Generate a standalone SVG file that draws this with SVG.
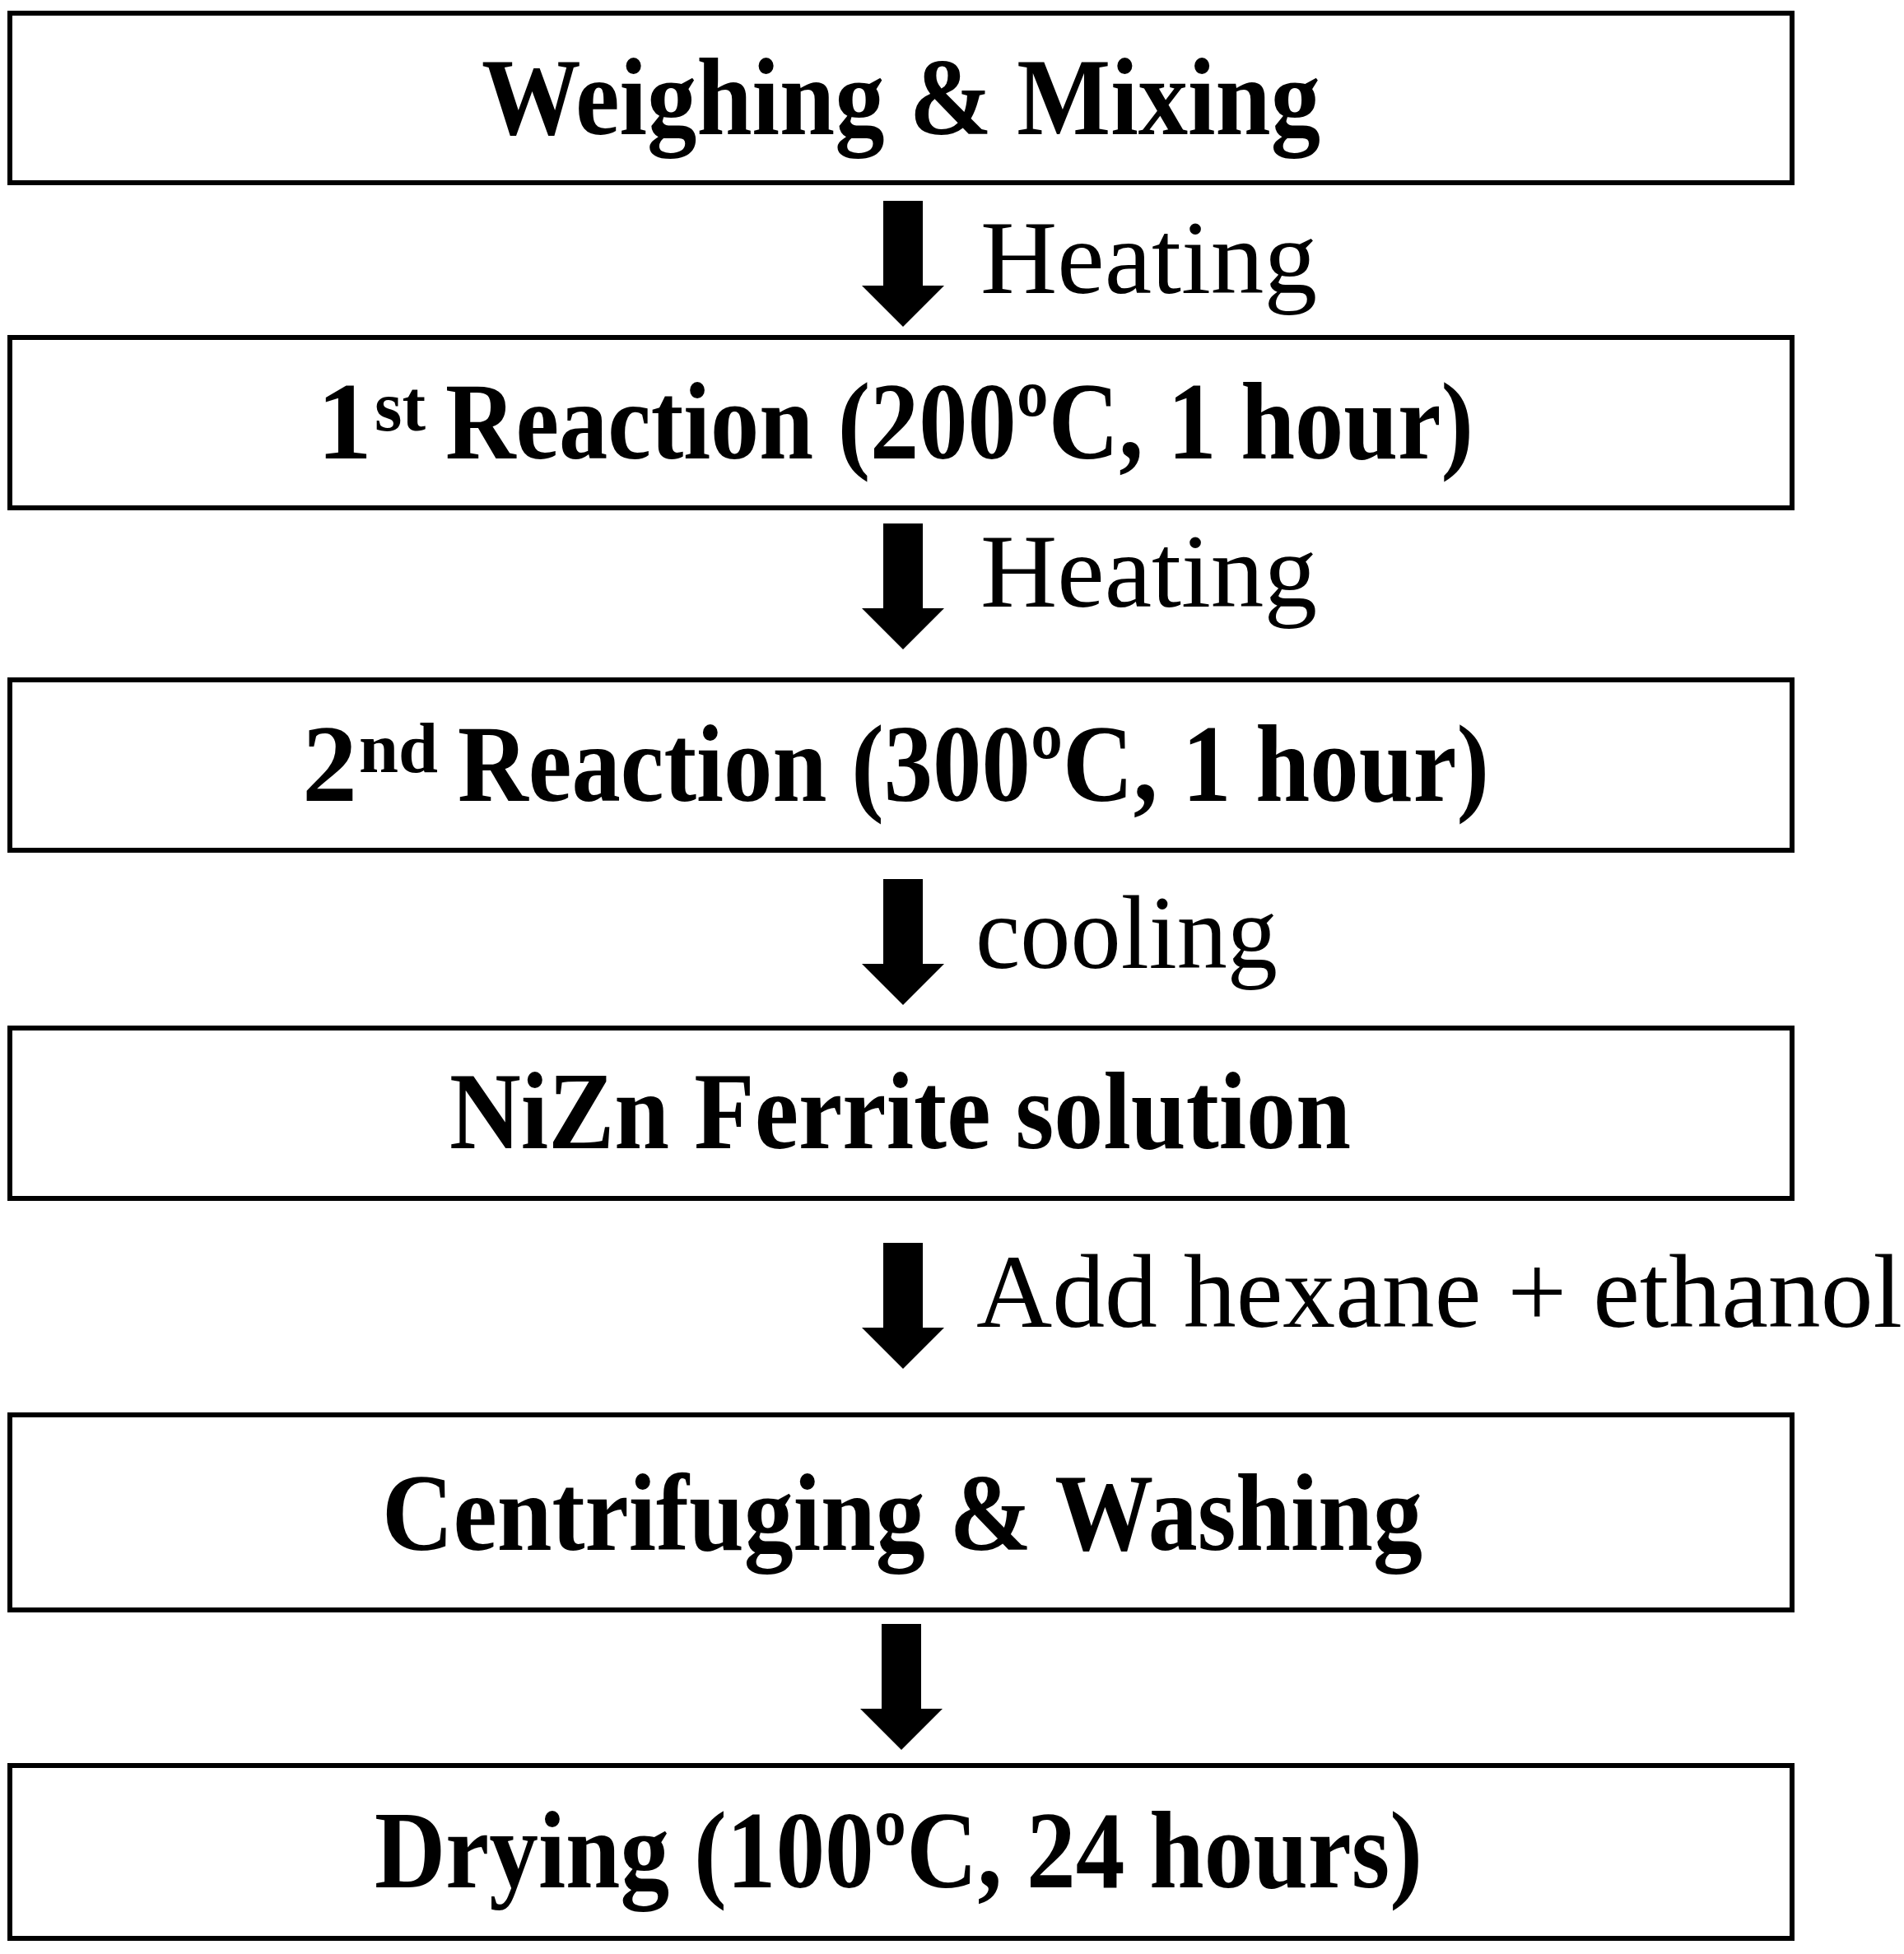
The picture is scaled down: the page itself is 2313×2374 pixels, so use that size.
<svg xmlns="http://www.w3.org/2000/svg" width="2313" height="2374" viewBox="0 0 2313 2374">
<style>
.box{fill:#fff;stroke:#000;stroke-width:6}
.t{font-family:"Liberation Serif","Times New Roman",serif;font-weight:bold;font-size:134px;fill:#000}
.sup{font-family:"Liberation Serif","Times New Roman",serif;font-weight:bold;font-size:86px;fill:#000}
.lbl{font-family:"Liberation Serif","Times New Roman",serif;font-size:126px;fill:#000}
.arr{fill:#000}
</style>
<defs>
<path id="arrow" d="M-24,0 H24 V103 H50 L0,153 L-50,103 H-24 Z"/>
</defs>
<rect width="2313" height="2374" fill="#fff"/>
<g id="connectors">
<use href="#arrow" class="arr" x="1097" y="244"/>
<use href="#arrow" class="arr" x="1097" y="636"/>
<use href="#arrow" class="arr" x="1097" y="1068"/>
<use href="#arrow" class="arr" x="1097" y="1510"/>
<use href="#arrow" class="arr" x="1095" y="1973"/>
<text class="lbl" x="1191" y="356" textLength="409" lengthAdjust="spacingAndGlyphs">Heating</text>
<text class="lbl" x="1191" y="737" textLength="409" lengthAdjust="spacingAndGlyphs">Heating</text>
<text class="lbl" x="1185" y="1176" textLength="367" lengthAdjust="spacingAndGlyphs">cooling</text>
<text class="lbl" x="1186" y="1612" textLength="1125" lengthAdjust="spacingAndGlyphs">Add hexane + ethanol</text>
</g>
<g id="n1">
<rect class="box" x="12" y="16" width="2165" height="206"/>
<text class="t" x="585" y="163" textLength="1019" lengthAdjust="spacingAndGlyphs">Weighing  &amp; Mixing</text>
</g>
<g id="n2">
<rect class="box" x="12" y="410" width="2165" height="207"/>
<text class="t" x="385" y="557">1</text>
<text class="sup" x="455" y="523" textLength="62" lengthAdjust="spacingAndGlyphs">st</text>
<text class="t" x="541" y="557" textLength="1249" lengthAdjust="spacingAndGlyphs">Reaction (200ºC, 1 hour)</text>
</g>
<g id="n3">
<rect class="box" x="12" y="826" width="2165" height="207"/>
<text class="t" x="367" y="973">2</text>
<text class="sup" x="436" y="938" textLength="96" lengthAdjust="spacingAndGlyphs">nd</text>
<text class="t" x="556" y="973" textLength="1253" lengthAdjust="spacingAndGlyphs">Reaction (300ºC, 1 hour)</text>
</g>
<g id="n4">
<rect class="box" x="12" y="1249" width="2165" height="207"/>
<text class="t" x="546" y="1395" textLength="1095" lengthAdjust="spacingAndGlyphs">NiZn Ferrite solution</text>
</g>
<g id="n5">
<rect class="box" x="12" y="1719" width="2165" height="237"/>
<text class="t" x="464" y="1883" textLength="1264" lengthAdjust="spacingAndGlyphs">Centrifuging  &amp; Washing</text>
</g>
<g id="n6">
<rect class="box" x="12" y="2145" width="2165" height="210"/>
<text class="t" x="455" y="2293" textLength="1273" lengthAdjust="spacingAndGlyphs">Drying (100ºC, 24 hours)</text>
</g>
</svg>
